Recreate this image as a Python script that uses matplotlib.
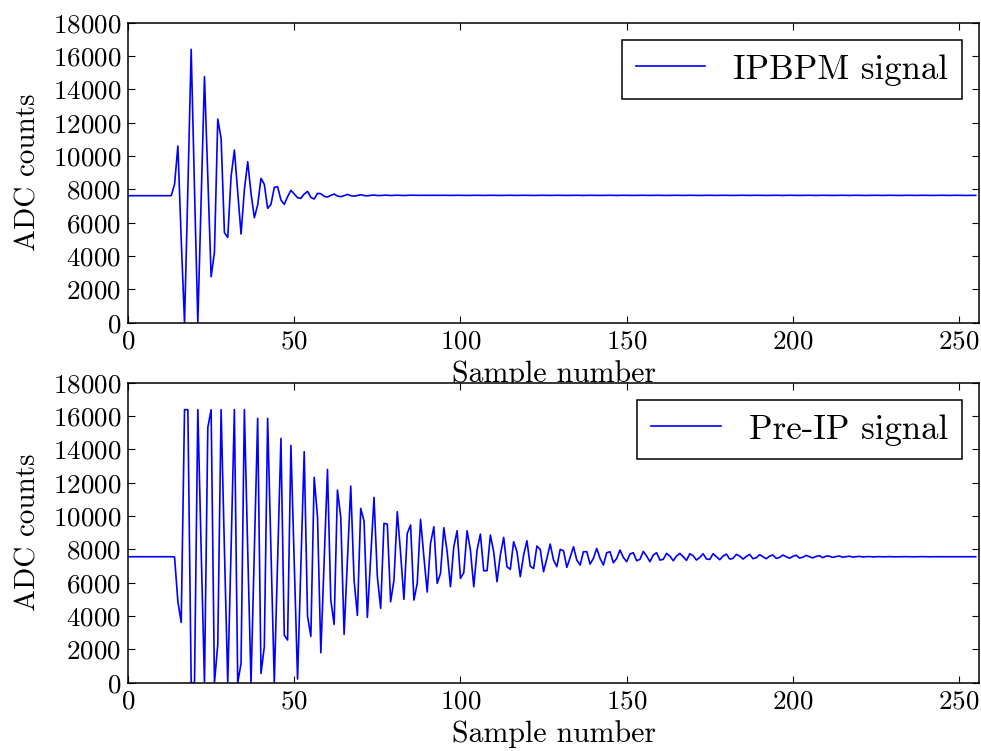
import numpy as np
import matplotlib
matplotlib.use("Agg")
import matplotlib.pyplot as plt

# ---------------- data ----------------
ipbpm_signal = [
    7620, 7620, 7620, 7625, 7625, 7625, 7625, 7620, 7620, 7620, 7620, 7620, 7620, 7620,   # 0-13
    8300, 10600, 5000, 0, 8000, 16400, 8000, 0, 7400, 14760,                              # 14-23
    8800, 2760, 4220, 12220, 11060, 5400, 5120, 8760, 10360, 7840,                         # 24-33
    5320, 7960, 9660, 7760, 6300, 7060, 8660, 8300, 6860, 7100,                            # 34-43
    8120, 8160, 7360, 7100, 7560, 7940, 7720, 7500, 7460, 7720,                            # 44-53
    7880, 7520, 7420, 7760, 7740, 7580, 7540, 7640, 7720, 7600,                            # 54-63
    7560, 7620, 7700, 7620, 7590, 7630, 7680, 7630, 7610, 7640,                            # 64-73
    7660, 7630, 7630, 7650, 7650, 7630, 7640, 7650, 7640, 7630,                            # 74-83
    7640, 7650, 7645, 7635, 7640, 7645, 7640, 7640, 7645, 7640,                            # 84-93
] + [7640, 7645, 7640, 7635, 7640, 7645, 7640, 7640, 7635, 7640] * 16                    # 94-253
ipbpm_signal += [7640, 7640]                                                               # 254-255

preip_signal = [
    7560, 7560, 7560, 7560, 7560, 7560, 7560, 7560, 7560, 7560, 7560, 7560, 7560, 7560,   # 0-13
    7540, 4860, 3620, 16383, 16383, 0, 0, 16383, 8000, 0,                                  # 14-23
    15300, 16383, 0, 2300, 16383, 8000, 0, 8000, 16383, 0,                                 # 24-33
    1160, 16383, 8000, 0, 8000, 15860, 560, 2160, 15860, 7900,                             # 34-43
    0, 7300, 14660, 2860, 2560, 14240, 7200, 220, 7000, 13860,                             # 44-53
    4000, 2780, 12320, 9960, 1800, 7300, 12800, 4960, 3500, 11560,                         # 54-63
    9920, 2900, 7300, 11800, 6160, 4040, 10460, 9700, 3920, 7500,                          # 64-73
    11120, 6360, 4460, 9560, 9520, 4860, 6160, 10260, 7760, 5000,                          # 74-83
    8960, 9460, 4960, 5960, 9800, 7560, 5440, 8360, 9360, 5960,                            # 84-93
    6560, 9300, 7860, 5760, 8160, 9120, 6260, 6600, 9120, 7960,                            # 94-103
    5760, 7960, 8920, 6720, 6720, 8860, 7860, 6060, 7660, 8720,                            # 104-113
    6960, 6800, 8460, 7860, 6360, 7660, 8520, 6990, 6850, 8200,                            # 114-123
    8000, 6660, 7460, 8320, 7360, 6960, 8000, 7920, 6920, 7520,                            # 124-133
    8160, 7360, 7060, 7860, 7860, 7120, 7460, 8060, 7460, 7060,                            # 134-143
    7800, 7860, 7200, 7460, 7960, 7520, 7260, 7720, 7800, 7320,                            # 144-153
    7400, 7880, 7600, 7260, 7660, 7800, 7360, 7400, 7760, 7600,                            # 154-163
    7320, 7600, 7760, 7560, 7340, 7740, 7620, 7360, 7520, 7740,                            # 164-173
    7420, 7400, 7740, 7560, 7380, 7600, 7720, 7420, 7460, 7700,                            # 174-183
    7600, 7420, 7580, 7700, 7440, 7500, 7680, 7560, 7440, 7600,                            # 184-193
    7660, 7460, 7520, 7660, 7560, 7470, 7580, 7650, 7480, 7530,                            # 194-203
    7640, 7560, 7490, 7580, 7620, 7500, 7600, 7590, 7520, 7570,                            # 204-213
    7600, 7530, 7560, 7590, 7540, 7560, 7580, 7550, 7560, 7570,                            # 214-223
    7550, 7560, 7565, 7555, 7560, 7565, 7560, 7555, 7560, 7560,                            # 224-233
    7565, 7560, 7555, 7560, 7560, 7565, 7560, 7555, 7560, 7560,                            # 234-243
    7560, 7565, 7560, 7555, 7560, 7560, 7565, 7560, 7560, 7560, 7560, 7560,                # 244-255
]

series = [("IPBPM signal", ipbpm_signal), ("Pre-IP signal", preip_signal)]
y_ticks = [0, 2000, 4000, 6000, 8000, 10000, 12000, 14000, 16000, 18000]
x_ticks = [0, 50, 100, 150, 200, 250]

# ---------------- style ----------------
plt.rcParams['font.family'] = ['cmr10', 'DejaVu Serif']
plt.rcParams['mathtext.fontset'] = 'cm'
plt.rcParams['axes.formatter.use_mathtext'] = True
plt.rcParams['axes.unicode_minus'] = False

fig = plt.figure(figsize=(9.81, 7.51), dpi=100, facecolor='white')
positions = [[0.1305, 0.5703, 0.8675, 0.3995], [0.1305, 0.0909, 0.8675, 0.3995]]

for pos, (label, vals) in zip(positions, series):
    ax = fig.add_axes(pos)
    ax.plot(np.arange(len(vals)), vals, color=(0, 0, 1), lw=1.2, label=label)
    ax.set_xlim(0, 256)
    ax.set_ylim(0, 18000)
    ax.set_xticks(x_ticks)
    ax.set_yticks(y_ticks)
    ax.tick_params(direction='in', top=True, right=True, length=5, width=0.8,
                   labelsize=19.5, pad=5)
    for sp in ax.spines.values():
        sp.set_linewidth(1.1)
    ax.set_xlabel("Sample number", fontsize=21.5, labelpad=5)
    ax.set_ylabel("ADC counts", fontsize=21, labelpad=8)
    leg = ax.legend(loc='upper right', fontsize=25, frameon=True, fancybox=False,
                    handlelength=2.0, handletextpad=0.8, borderpad=0.4,
                    borderaxespad=0.5, framealpha=1.0)
    leg.get_frame().set_edgecolor('black')
    leg.get_frame().set_linewidth(1.1)

fig.savefig("out.png", dpi=100, facecolor='white')
